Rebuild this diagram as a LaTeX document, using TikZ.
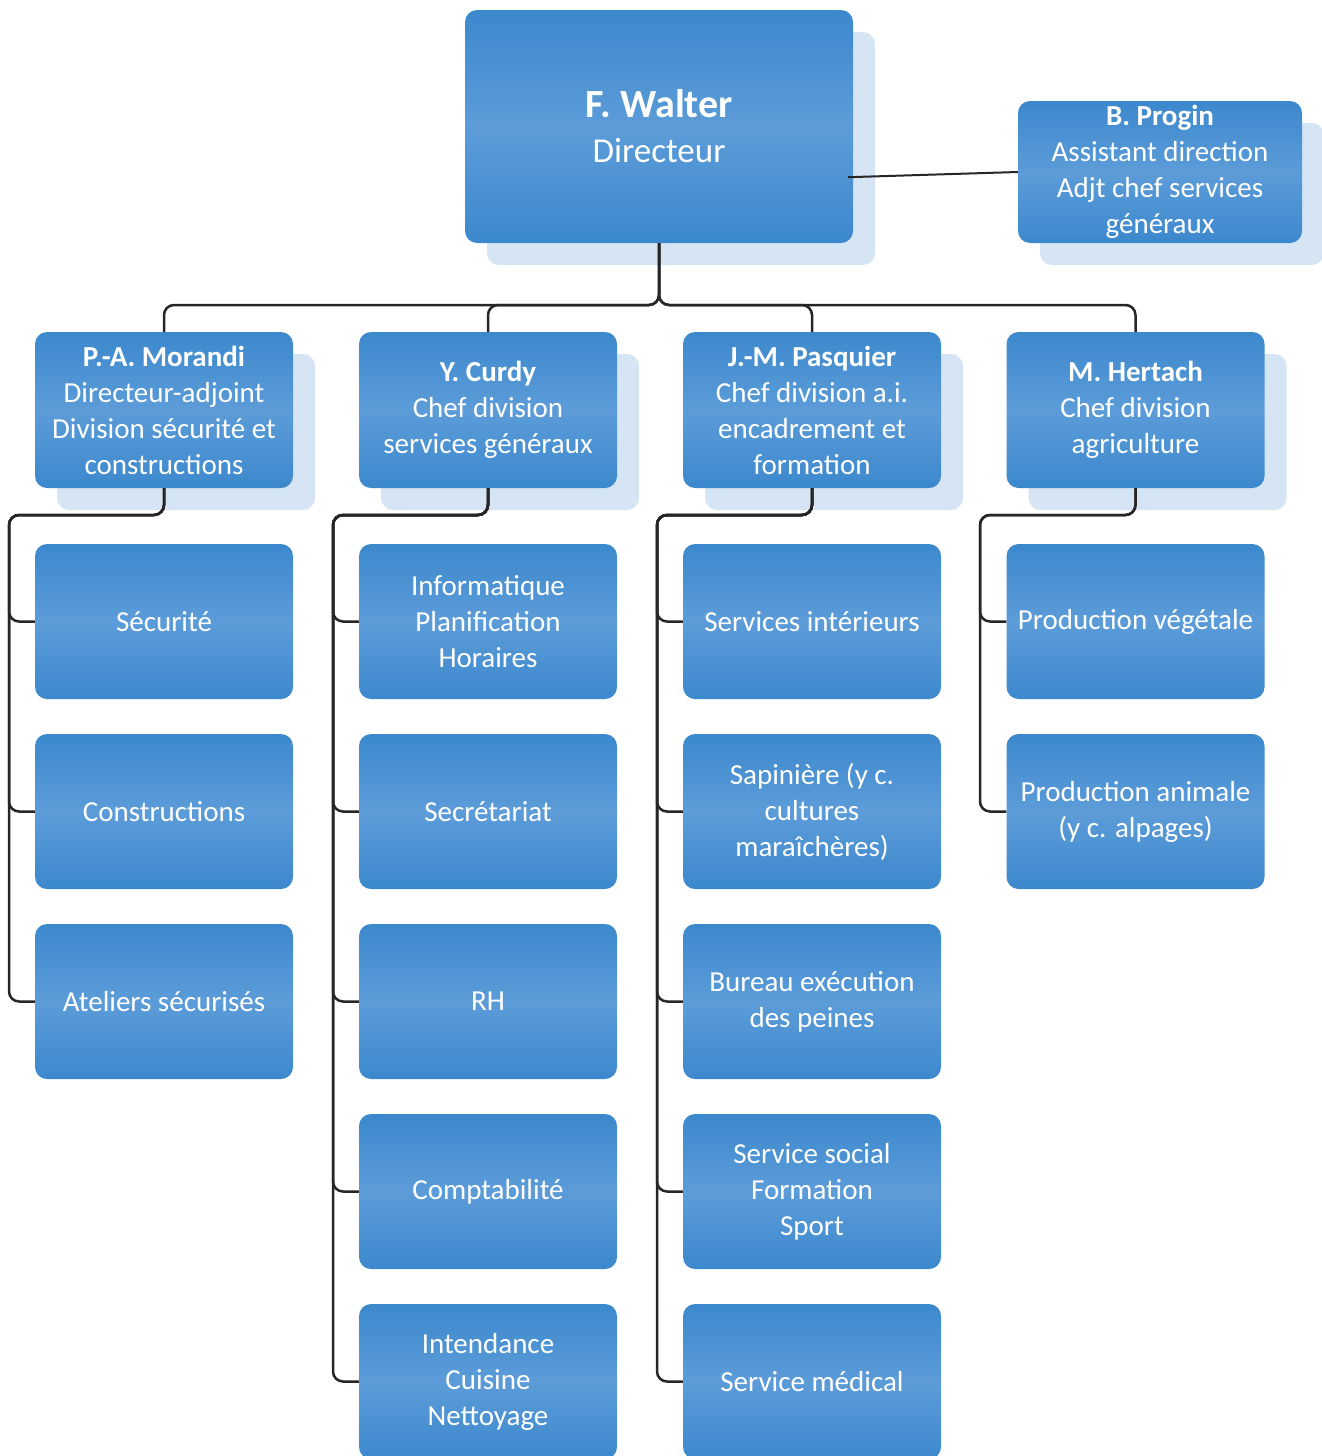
\documentclass[tikz,border=0pt]{standalone}
\usepackage{fontspec}
\setmainfont{Carlito}
\usetikzlibrary{shadows,calc}
\definecolor{bA}{HTML}{3C88CD}
\definecolor{bB}{HTML}{5C9CD8}
\definecolor{shd}{HTML}{D6E5F4}
\definecolor{ln}{HTML}{262626}
\tikzset{
  box/.style={rounded corners=12pt, draw=none, top color=bA, bottom color=bA, middle color=bB,
    text=white, align=center, inner sep=0pt, font=\fontsize{29}{36}\selectfont,
    minimum width=258pt, minimum height=155pt},
  shbox/.style={box, drop shadow={shadow xshift=22pt, shadow yshift=-22pt, fill=shd, opacity=1}},
  conn/.style={draw=ln, line width=2.5pt, rounded corners=10pt},
}
\begin{document}
\begin{tikzpicture}[x=1pt,y=-1pt]
\useasboundingbox (0,0) rectangle (1322,1456);
% top
\node[shbox, minimum width=388pt, minimum height=233pt, font=\fontsize{35}{45}\selectfont] (walter) at (659,126.5)
  {{\fontsize{40}{45}\selectfont\bfseries F. Walter}\\Directeur};
\node[shbox, minimum width=284pt, minimum height=142pt] (progin) at (1160,172)
  {\textbf{B. Progin}\\Assistant direction\\Adjt chef services\\généraux};
% level 2
\node[shbox, minimum height=156pt] (morandi) at (164,410)
  {\textbf{P.-A. Morandi}\\Directeur-adjoint\\Division sécurité et\\constructions};
\node[shbox, minimum height=156pt] (curdy) at (488,410)
  {\textbf{Y. Curdy}\\Chef division\\services généraux};
\node[shbox, minimum height=156pt] (pasquier) at (812,410)
  {\textbf{J.-M. Pasquier}\\Chef division a.i.\\encadrement et\\formation};
\node[shbox, minimum height=156pt] (hertach) at (1135.5,410)
  {\textbf{M. Hertach}\\Chef division\\agriculture};
% children
\node[box] (a1) at (164,621.5) {Sécurité};
\node[box] (a2) at (164,811.5) {Constructions};
\node[box] (a3) at (164,1001.5) {Ateliers sécurisés};
\node[box] (b1) at (488,621.5) {Informatique\\Planification\\Horaires};
\node[box] (b2) at (488,811.5) {Secrétariat};
\node[box] (b3) at (488,1001.5) {RH};
\node[box] (b4) at (488,1191.5) {Comptabilité};
\node[box] (b5) at (488,1381.5) {Intendance\\Cuisine\\Nettoyage};
\node[box] (c1) at (812,621.5) {Services intérieurs};
\node[box] (c2) at (812,811.5) {Sapinière (y c.\\cultures\\maraîchères)};
\node[box] (c3) at (812,1001.5) {Bureau exécution\\des peines};
\node[box] (c4) at (812,1191.5) {Service social\\Formation\\Sport};
\node[box] (c5) at (812,1381.5) {Service médical};
\node[box] (d1) at (1135.5,621.5) {Production végétale};
\node[box] (d2) at (1135.5,811.5) {Production animale\\(y c. alpages)};
% connectors top
\coordinate (hub) at (659,305);
\foreach \n in {morandi,curdy,pasquier,hertach}
  \draw[conn] (walter.south) -- (hub) -| (\n.north);
\draw[ln, line width=2pt] ($(walter.south east)+(-5,-66)$) -- (progin.west);
% child buses
\coordinate (ba) at (9,515);
\coordinate (bb) at (333,515);
\coordinate (bc) at (657,515);
\coordinate (bd) at (980,515);
\foreach \c in {a1,a2,a3} \draw[conn] (morandi.south) |- (ba) |- (\c.west);
\foreach \c in {b1,b2,b3,b4,b5} \draw[conn] (curdy.south) |- (bb) |- (\c.west);
\foreach \c in {c1,c2,c3,c4,c5} \draw[conn] (pasquier.south) |- (bc) |- (\c.west);
\foreach \c in {d1,d2} \draw[conn] (hertach.south) |- (bd) |- (\c.west);
\end{tikzpicture}
\end{document}
